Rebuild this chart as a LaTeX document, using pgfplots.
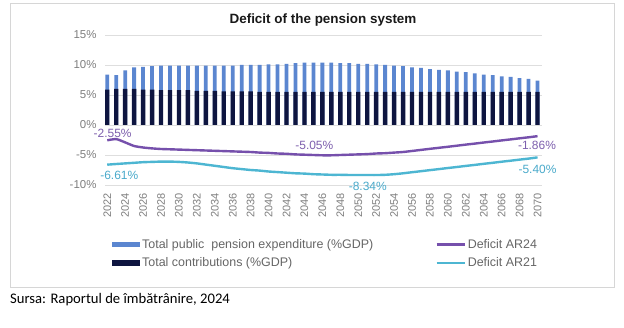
\documentclass[border=0pt]{standalone}
\usepackage{pgfplots}
\pgfplotsset{compat=1.18}
\usepackage{pgfplotstable}
\usepackage{fontspec}
\setmainfont{Liberation Sans}
\newfontfamily\carlito{Carlito}
\definecolor{expblue}{HTML}{5B86D0}
\definecolor{contrnavy}{HTML}{0E1540}
\definecolor{arpurple}{HTML}{7650AC}
\definecolor{arcyan}{HTML}{4DB6D2}
\definecolor{labpurple}{HTML}{7E60AE}
\definecolor{labcyan}{HTML}{4AAACB}
\definecolor{ticktext}{HTML}{7F7F7F}
\definecolor{gridc}{HTML}{DEDEDE}
\definecolor{framec}{HTML}{D6D6D6}
\definecolor{legtext}{HTML}{666666}

\pgfplotstableread{
year exp contr ar24 ar21
2022 8.4 5.9 -2.55 -6.61
2023 8.3 6.0 -2.35 -6.50
2024 9.1 6.0 -2.90 -6.40
2025 9.6 6.0 -3.50 -6.30
2026 9.7 5.9 -3.75 -6.20
2027 9.8 5.9 -3.90 -6.15
2028 9.9 5.8 -4.00 -6.10
2029 9.9 5.8 -4.05 -6.10
2030 9.9 5.8 -4.10 -6.15
2031 9.9 5.8 -4.15 -6.25
2032 9.9 5.7 -4.20 -6.40
2033 9.9 5.7 -4.25 -6.60
2034 9.9 5.7 -4.30 -6.80
2035 9.9 5.6 -4.35 -7.00
2036 9.9 5.6 -4.40 -7.20
2037 10.0 5.6 -4.45 -7.35
2038 10.0 5.6 -4.50 -7.50
2039 10.0 5.5 -4.60 -7.60
2040 10.1 5.5 -4.65 -7.75
2041 10.1 5.5 -4.75 -7.85
2042 10.2 5.5 -4.80 -7.95
2043 10.3 5.5 -4.90 -8.05
2044 10.4 5.5 -4.95 -8.10
2045 10.4 5.5 -5.00 -8.20
2046 10.4 5.5 -5.05 -8.25
2047 10.4 5.5 -5.05 -8.30
2048 10.3 5.5 -5.00 -8.30
2049 10.3 5.5 -4.95 -8.33
2050 10.2 5.5 -4.90 -8.34
2051 10.2 5.5 -4.85 -8.34
2052 10.1 5.5 -4.75 -8.34
2053 10.0 5.5 -4.70 -8.30
2054 9.9 5.5 -4.60 -8.20
2055 9.8 5.5 -4.50 -8.05
2056 9.6 5.5 -4.33 -7.87
2057 9.5 5.5 -4.15 -7.70
2058 9.3 5.5 -3.97 -7.52
2059 9.2 5.5 -3.80 -7.35
2060 9.1 5.5 -3.63 -7.17
2061 8.9 5.5 -3.45 -7.00
2062 8.8 5.5 -3.27 -6.82
2063 8.6 5.5 -3.10 -6.65
2064 8.4 5.5 -2.92 -6.47
2065 8.3 5.5 -2.75 -6.30
2066 8.1 5.5 -2.57 -6.12
2067 8.0 5.5 -2.40 -5.95
2068 7.8 5.5 -2.22 -5.77
2069 7.7 5.5 -2.05 -5.60
2070 7.4 5.5 -1.86 -5.40
}\datatable

\begin{document}
\begin{tikzpicture}
\path[fill=white] (0,0) rectangle (624bp,328bp);
\draw[framec, line width=0.8bp] (10bp,41bp) rectangle (614bp,325bp);
\node[font=\bfseries\fontsize{13.5}{15}\selectfont, text=black!90] at (323bp,308bp) {Deficit of the pension system};
\node[anchor=base west, font=\carlito\fontsize{14.7}{17}\selectfont, inner sep=0pt] at (10bp,25bp) {Sursa: Raportul de îmbătrânire, 2024};
\begin{axis}[
  at={(105bp,143bp)}, anchor=south west,
  scale only axis, width=437bp, height=150bp,
  xmin=2021.75, xmax=2070.5, ymin=-10, ymax=15,
  clip=false,
  axis line style={draw=none},
  tick style={draw=none},
  ymajorgrids, grid style={gridc, line width=0.8bp},
  ytick={-10,-5,0,5,10,15},
  yticklabels={-10\%,-5\%,0\%,5\%,10\%,15\%},
  yticklabel style={font=\fontsize{11.5}{13}\selectfont, text=ticktext},
  yticklabel shift=5bp,
  xtick={2022,2024,...,2070},
  xticklabel style={font=\fontsize{11}{13}\selectfont, text=ticktext, rotate=90, anchor=east, /pgf/number format/1000 sep={}, /pgf/number format/assume math mode=true},
  xticklabel shift=5bp,
  legend columns=2,
  legend style={at={(4bp,-50bp)}, anchor=north west, draw=none, fill=none,
    font=\fontsize{12.5}{14}\selectfont, text=legtext,
    row sep=4bp,
    /tikz/every even column/.append style={column sep=60bp}},
  legend cell align=left,
]
\addplot[ybar, bar width=3.8bp, bar shift=0pt, fill=expblue, draw=none,
  legend image code/.code={\fill[expblue] (0bp,-2.6bp) rectangle (28bp,2.6bp);}]
  table[x=year, y=exp] {\datatable};
\addlegendentry{Total public\ \ pension expenditure (\%GDP)}
\addplot[arpurple, line width=2.4bp, smooth, tension=0.4, no markers,
  legend image code/.code={\draw[arpurple, line width=2.4bp] (0bp,0bp) -- (28bp,0bp);}]
  table[x=year, y=ar24] {\datatable};
\addlegendentry{Deficit AR24}
\addplot[ybar, bar width=4.4bp, bar shift=0pt, fill=contrnavy, draw=none,
  legend image code/.code={\fill[contrnavy] (0bp,-2.6bp) rectangle (28bp,2.6bp);}]
  table[x=year, y=contr] {\datatable};
\addlegendentry{Total contributions (\%GDP)}
\addplot[arcyan, line width=2.4bp, smooth, tension=0.4, no markers,
  legend image code/.code={\draw[arcyan, line width=2.4bp] (0bp,0bp) -- (28bp,0bp);}]
  table[x=year, y=ar21] {\datatable};
\addlegendentry{Deficit AR21}
\node[text=labpurple, font=\fontsize{12}{14}\selectfont, inner sep=0pt] at (axis cs:2022.6,-1.33) {-2.55\%};
\node[text=labpurple, font=\fontsize{12}{14}\selectfont, inner sep=0pt] at (axis cs:2045.1,-3.33) {-5.05\%};
\node[text=labpurple, font=\fontsize{12}{14}\selectfont, inner sep=0pt] at (axis cs:2069.94,-3.45) {-1.86\%};
\node[text=labcyan, font=\fontsize{12}{14}\selectfont, inner sep=0pt] at (axis cs:2023.34,-8.45) {-6.61\%};
\node[text=labcyan, font=\fontsize{12}{14}\selectfont, inner sep=0pt] at (axis cs:2051.06,-10.3) {-8.34\%};
\node[text=labcyan, font=\fontsize{12}{14}\selectfont, inner sep=0pt] at (axis cs:2070,-7.39) {-5.40\%};
\end{axis}
\end{tikzpicture}
\end{document}
